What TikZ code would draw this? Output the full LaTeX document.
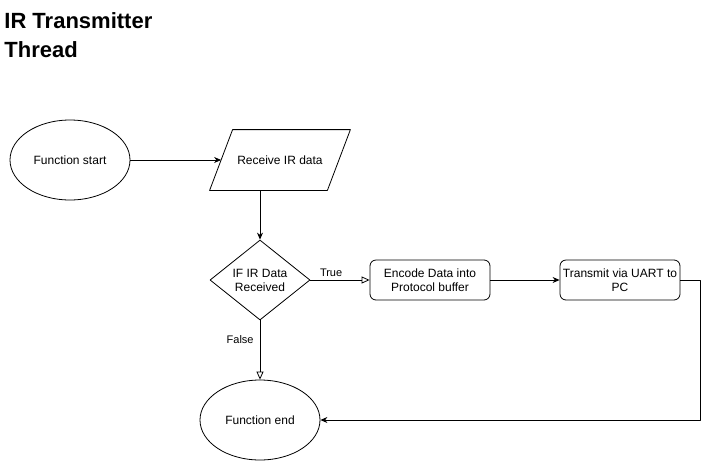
\documentclass[tikz,border=0pt]{standalone}
\usepackage{fontspec}
\setmainfont{Liberation Sans}
\usetikzlibrary{shapes.geometric,arrows.meta}
\begin{document}
\begin{tikzpicture}[x=1pt, y=-1pt, font=\fontsize{12}{14}\selectfont, line join=round, line width=0.8pt, >={Stealth[length=7pt,width=6pt]}]
	\tikzset{terminal/.style={draw, ellipse, minimum width=120pt, minimum height=80pt, inner sep=0pt},
		io/.style={minimum width=117pt, minimum height=60pt, inner sep=0pt},
		decision/.style={draw, diamond, minimum width=100pt, minimum height=80pt, inner sep=0pt, align=center},
		process/.style={draw, rounded corners=6pt, minimum width=120pt, minimum height=40pt, inner sep=2pt, align=center},
		branch/.style={font=\fontsize{11}{13}\selectfont},
		open/.style={-{Triangle[open,length=8pt,width=7pt]}}}
	\useasboundingbox (0,0) rectangle (709,461);
	\node[anchor=north west, inner sep=0pt, align=left, font=\fontsize{22}{29}\selectfont\bfseries] (title) at (4,12) {IR Transmitter\\Thread};
	% flow
	\node[terminal] (start) at (70,160) {Function start};
	\node[io] (recv) at (280,160) {Receive IR data};
	\draw ([xshift=-11.5pt]recv.south west) -- ([xshift=11.5pt]recv.north west) -- ([xshift=11.5pt]recv.north east) -- ([xshift=-11.5pt]recv.south east) -- cycle;
	\node[decision] (dec) at (260,280) {IF IR Data\\Received};
	\node[process] (enc) at (430,280) {Encode Data into\\Protocol buffer};
	\node[process] (tx) at (620,280) {Transmit via UART to\\PC};
	\node[terminal] (end) at (260,420) {Function end};
	\draw[->] (start) -- (recv);
	\draw[->] (recv.south -| dec.north) -- (dec);
	\draw[open] (dec) -- node[branch, above, pos=0.35] {True} (enc);
	\draw[->] (enc) -- (tx);
	\draw[->] (tx.east) -- ++(20,0) |- (end);
	\draw[open] (dec) -- node[branch, left, pos=0.33, inner sep=6pt] {False} (end);
\end{tikzpicture}
\end{document}
